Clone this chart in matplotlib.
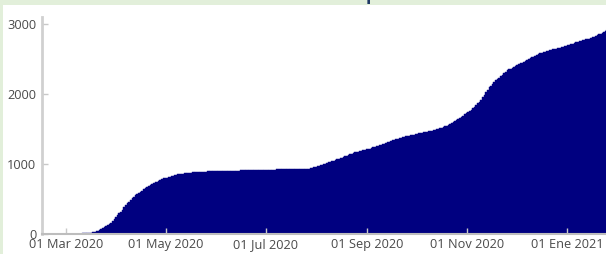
import matplotlib
matplotlib.use('Agg')
import matplotlib.pyplot as plt
import matplotlib.dates as mdates
import pandas as pd

''' datos: valores diarios acumulados desde 01 Mar 2020 (leidos del grafico) '''
start_date = '2020-03-01'
values = [
    1, 1, 2, 2, 3, 3, 4, 5, 6, 7, 8, 9, 11, 13, 16,
    19, 24, 30, 37, 46, 55,
    66, 80, 97, 112, 128, 142, 152, 180, 212, 242, 271,
    295, 320, 343, 380, 414,
    438, 462, 486,
    510, 533, 557,
    573, 589, 605,
    621, 637, 652,
    668, 684, 700,
    712, 724, 736, 746,
    758, 770, 782, 793,
    800, 807, 814, 821, 828,
    833, 839, 845, 851, 856,
    859, 862, 866, 869, 872, 875,
    877, 879, 880, 882, 884, 886,
    887, 889, 890, 892, 893, 895,
    896, 897, 898, 898, 899, 900, 900, 901, 901, 902, 902, 903, 904, 905,
    906, 906, 907, 907, 908, 908, 909, 909, 910, 910, 911, 911, 912, 912, 913, 914, 914, 915, 916, 917, 918, 919, 920,
    920, 921, 921, 922, 922, 923, 923, 924, 924, 925, 925, 926, 926, 927, 927, 928, 928, 929, 929, 930, 930, 931, 932, 935,
    940, 946, 952, 958, 965, 972, 979, 987, 995, 1005,
    1014, 1023, 1032, 1041, 1050, 1058, 1066, 1073, 1080,
    1090, 1100, 1110, 1120, 1130, 1140, 1150, 1160,
    1166, 1172, 1178, 1184, 1190, 1196, 1202, 1208, 1214,
    1221, 1229, 1237, 1245, 1252, 1260, 1268, 1276, 1284,
    1292, 1300, 1309, 1318, 1327, 1336, 1345, 1354, 1362, 1370, 1378, 1385, 1390,
    1396, 1401, 1406, 1411, 1416, 1421, 1426, 1431, 1436, 1441, 1446, 1451, 1455, 1460,
    1466, 1472, 1478, 1484, 1490, 1496, 1503, 1510,
    1518, 1527, 1536, 1546, 1557,
    1570, 1584, 1598, 1612, 1626, 1645,
    1660, 1676, 1692, 1708, 1724, 1741, 1758, 1776, 1795,
    1818, 1842, 1866, 1890, 1920,
    1956, 1992, 2028, 2064, 2095,
    2120, 2145, 2170, 2195, 2215,
    2235, 2255, 2275, 2295, 2318, 2340,
    2352, 2364, 2376, 2388, 2400, 2412, 2424, 2436, 2449, 2462,
    2474, 2486, 2498, 2510, 2522, 2534, 2546, 2558, 2570, 2581,
    2588, 2595, 2602, 2609, 2616, 2623, 2630, 2637, 2643, 2649, 2655,
    2662, 2669, 2676, 2683, 2690, 2697, 2704, 2711, 2720, 2730,
    2737, 2744, 2751, 2758, 2765, 2772, 2779, 2786, 2792, 2798,
    2808, 2818, 2828, 2840, 2852, 2864, 2876, 2888, 2899, 2910,
]
tick_dates = ['2020-03-01', '2020-05-01', '2020-07-01', '2020-09-01', '2020-11-01', '2021-01-01']
tick_labels = ['01 Mar 2020', '01 May 2020', '01 Jul 2020', '01 Sep 2020', '01 Nov 2020', '01 Ene 2021']
y_ticks = [0, 1000, 2000, 3000]

dates = pd.date_range(start_date, periods=len(values), freq='D')

plt.rcParams['font.family'] = ['Open Sans', 'DejaVu Sans']

fig = plt.figure(figsize=(6.06, 2.54), dpi=100)
fig.patch.set_facecolor('#e2efda')
# panel blanco
fig.add_artist(plt.Rectangle((3 / 606, 0), 1, 1 - 5 / 254, transform=fig.transFigure,
                             facecolor='white', edgecolor='none', zorder=0))

ax = fig.add_axes([42 / 606, 1 - 234 / 254, 1 - 42 / 606, (234 - 17) / 254])
ax.set_facecolor('none')
ax.bar(dates, values, width=1.0, color='#000080', edgecolor='#000080', linewidth=0.3, align='edge')

x0 = pd.Timestamp('2020-03-01')
ax.set_xlim(mdates.date2num(x0) - 14.7, mdates.date2num(x0) + 329.7)
ax.set_ylim(0, 3100)

ax.set_xticks([mdates.date2num(pd.Timestamp(d)) for d in tick_dates])
ax.set_xticklabels(tick_labels)
ax.set_yticks(y_ticks)
ax.set_yticklabels([str(v) for v in y_ticks])

for s in ['top', 'right']:
    ax.spines[s].set_visible(False)
ax.spines['left'].set_color('#d0d0d0')
ax.spines['left'].set_linewidth(2)
ax.spines['bottom'].set_color('#bdbdbd')
ax.spines['bottom'].set_linewidth(1.5)

ax.tick_params(axis='both', direction='in', length=4, width=1, color='#c8c8c8',
               labelsize=9.2, labelcolor='#4a4a4a')
ax.tick_params(axis='x', pad=3)
ax.tick_params(axis='y', pad=4)
for t in ax.get_xticklines():
    t.set_zorder(5)

# trozo del titulo cortado arriba
fig.text(371 / 606, 1 + 0.5 / 254, 'p', color='#1f3864', fontsize=13, fontweight='bold',
         ha='center', va='baseline')

fig.savefig('out.png', dpi=100, facecolor=fig.get_facecolor())
